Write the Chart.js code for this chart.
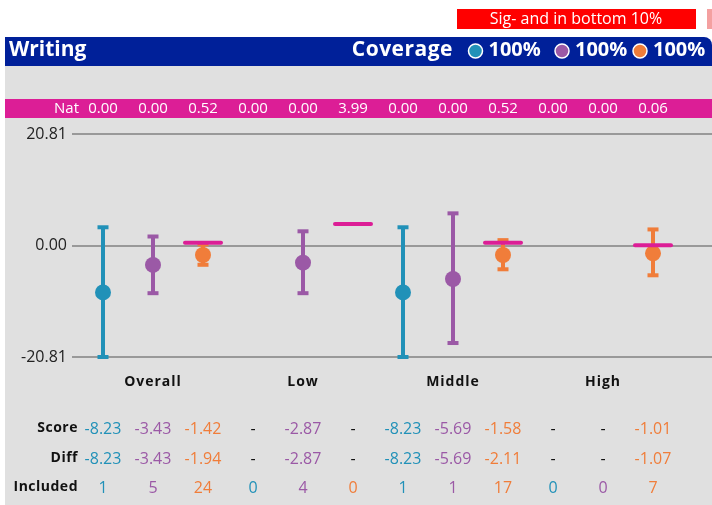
<!DOCTYPE html>
<html>
<head>
<meta charset="utf-8">
<script src="https://cdn.jsdelivr.net/npm/chart.js@4/dist/chart.umd.min.js"></script>
<style>
  body { margin: 0; background: #fff; }
  canvas { display: block; }
</style>
</head>
<body>
<canvas id="chart" width="712" height="505"></canvas>
<script>
// data
const groups = ['Overall', 'Low', 'Middle', 'High']
const natVals = [0.00, 0.00, 0.52, 0.00, 0.00, 3.99, 0.00, 0.00, 0.52, 0.00, 0.00, 0.06]
const pointVals = [-8.76, -3.63, -1.77, null, -3.2, null, -8.76, -6.25, -1.77, null, null, -1.46]
const hiVals = [3.4, 1.68, 0.2, null, 2.65, null, 3.4, 6.0, 1.0, null, null, 3.0]
const loVals = [-20.81, -8.9, -3.6, null, -8.9, null, -20.81, -18.2, -4.44, null, null, -5.56]
const scoreTxt = ['-8.23', '-3.43', '-1.42', '-', '-2.87', '-', '-8.23', '-5.69', '-1.58', '-', '-', '-1.01']
const diffTxt = ['-8.23', '-3.43', '-1.94', '-', '-2.87', '-', '-8.23', '-5.69', '-2.11', '-', '-', '-1.07']
const includedTxt = ['1', '5', '24', '0', '4', '0', '1', '1', '17', '0', '0', '7']
const coverage = ['100%', '100%', '100%']
const yTicks = [-20.81, 0, 20.81]

const colors = ['#2191b8', '#9b59a6', '#f07d3a']
const magenta = '#dc1e96'
const font = "'Open Sans', sans-serif"

function seriesData(s) {
  let out = []
  pointVals.forEach((v, i) => {
    if (i % 3 === s && v !== null) out.push({ x: i, y: v })
  })
  return out
}

const decorPlugin = {
  id: 'decor',
  beforeDraw(chart) {
    const ctx = chart.ctx
    ctx.save()
    ctx.fillStyle = '#fff'
    ctx.fillRect(0, 0, 712, 505)
    ctx.fillStyle = '#e0e0e0'
    ctx.fillRect(5, 66, 707, 439)
    // header bar
    ctx.fillStyle = '#002099'
    ctx.beginPath()
    ctx.roundRect(5, 37, 707, 29, [0, 8, 0, 0])
    ctx.fill()
    // sig box
    ctx.fillStyle = '#ff0000'
    ctx.fillRect(457, 9, 239, 20)
    ctx.fillStyle = '#f4a0a0'
    ctx.fillRect(707, 9, 5, 20)
    ctx.fillStyle = '#fff'
    ctx.font = '16px ' + font
    ctx.textAlign = 'center'
    ctx.textBaseline = 'middle'
    ctx.fillText('Sig- and in bottom 10%', 576, 19)
    // nat bar
    ctx.fillStyle = magenta
    ctx.fillRect(5, 99, 707, 19)
    ctx.restore()
  },
  beforeDatasetsDraw(chart) {
    const ctx = chart.ctx
    const xs = chart.scales.x, ys = chart.scales.y
    ctx.save()
    pointVals.forEach((v, i) => {
      if (v === null) return
      const x = xs.getPixelForValue(i)
      const top = ys.getPixelForValue(hiVals[i])
      const bot = ys.getPixelForValue(loVals[i])
      ctx.fillStyle = colors[i % 3]
      ctx.fillRect(x - 2, top, 4, bot - top)
      ctx.fillRect(x - 5.5, top - 2, 11, 4)
      ctx.fillRect(x - 5.5, bot - 2, 11, 4)
    })
    ctx.restore()
  },
  afterDatasetsDraw(chart) {
    const ctx = chart.ctx
    const xs = chart.scales.x, ys = chart.scales.y
    ctx.save()
    ctx.strokeStyle = magenta
    ctx.lineWidth = 4
    ctx.lineCap = 'round'
    natVals.forEach((v, i) => {
      if (i % 3 !== 2) return
      const x = xs.getPixelForValue(i)
      const y = ys.getPixelForValue(v)
      ctx.beginPath()
      ctx.moveTo(x - 18, y)
      ctx.lineTo(x + 18, y)
      ctx.stroke()
    })
    ctx.restore()
  },
  afterDraw(chart) {
    const ctx = chart.ctx
    const xs = chart.scales.x
    ctx.save()
    ctx.textBaseline = 'middle'
    // header
    ctx.fillStyle = '#fff'
    ctx.font = 'bold 21px ' + font
    ctx.textAlign = 'left'
    ctx.fillText('Writing', 9, 50)
    ctx.letterSpacing = '0.5px'
    ctx.textAlign = 'right'
    ctx.fillText('Coverage', 453, 50)
    ctx.letterSpacing = '0px'
    ctx.font = 'bold 20px ' + font
    const covX = [475.5, 562, 640]
    coverage.forEach((c, k) => {
      ctx.beginPath()
      ctx.arc(covX[k], 51, 7, 0, Math.PI * 2)
      ctx.fillStyle = colors[k]
      ctx.fill()
      ctx.strokeStyle = '#fff'
      ctx.lineWidth = 1.5
      ctx.stroke()
      ctx.fillStyle = '#fff'
      ctx.textAlign = 'left'
      ctx.fillText(c, covX[k] + 13, 50)
    })
    // nat row
    ctx.font = '15px ' + font
    ctx.textAlign = 'right'
    ctx.fillText('Nat', 79, 109)
    ctx.textAlign = 'center'
    natVals.forEach((v, i) => {
      ctx.fillText(v.toFixed(2), xs.getPixelForValue(i), 109)
    })
    // group labels
    ctx.fillStyle = '#111'
    ctx.font = 'bold 14px ' + font
    ctx.letterSpacing = '1px'
    groups.forEach((g, k) => {
      ctx.fillText(g, xs.getPixelForValue(k * 3 + 1), 382)
    })
    // table
    const rows = [['Score', scoreTxt, 429], ['Diff', diffTxt, 459], ['Included', includedTxt, 488]]
    rows.forEach(([label, vals, y]) => {
      ctx.font = 'bold 14px ' + font
      ctx.letterSpacing = '0.5px'
      ctx.fillStyle = '#111'
      ctx.textAlign = 'right'
      ctx.fillText(label, 78, y - 1)
      ctx.letterSpacing = '0px'
      ctx.font = '16px ' + font
      ctx.textAlign = 'center'
      vals.forEach((t, i) => {
        ctx.fillStyle = t === '-' ? '#111' : colors[i % 3]
        ctx.fillText(t, xs.getPixelForValue(i), y)
      })
    })
    ctx.restore()
  }
}

const ctx = document.getElementById('chart').getContext('2d')
let chart = new Chart(ctx, {
  type: 'scatter',
  data: {
    datasets: colors.map((c, s) => ({
      data: seriesData(s),
      backgroundColor: c,
      borderColor: c,
      pointRadius: 8,
      pointHoverRadius: 8,
      borderWidth: 0
    }))
  },
  options: {
    responsive: false,
    animation: false,
    devicePixelRatio: 1,
    layout: { autoPadding: false, padding: { left: 0, right: 0, top: 134, bottom: 148 } },
    plugins: { legend: { display: false }, tooltip: { enabled: false } },
    scales: {
      x: { type: 'linear', display: false, min: -0.62, max: 12.18 },
      y: {
        min: -20.81,
        max: 20.81,
        afterBuildTicks: (s) => { s.ticks = yTicks.map(v => ({ value: v })) },
        afterFit: (s) => { s.width = 72 },
        border: { display: false },
        grid: { color: '#999', lineWidth: 2, drawTicks: false },
        ticks: {
          padding: 5,
          color: '#222',
          font: { family: 'Open Sans', size: 16 },
          callback: (v) => v.toFixed(2)
        }
      }
    }
  },
  plugins: [decorPlugin]
})
</script>
</body>
</html>
